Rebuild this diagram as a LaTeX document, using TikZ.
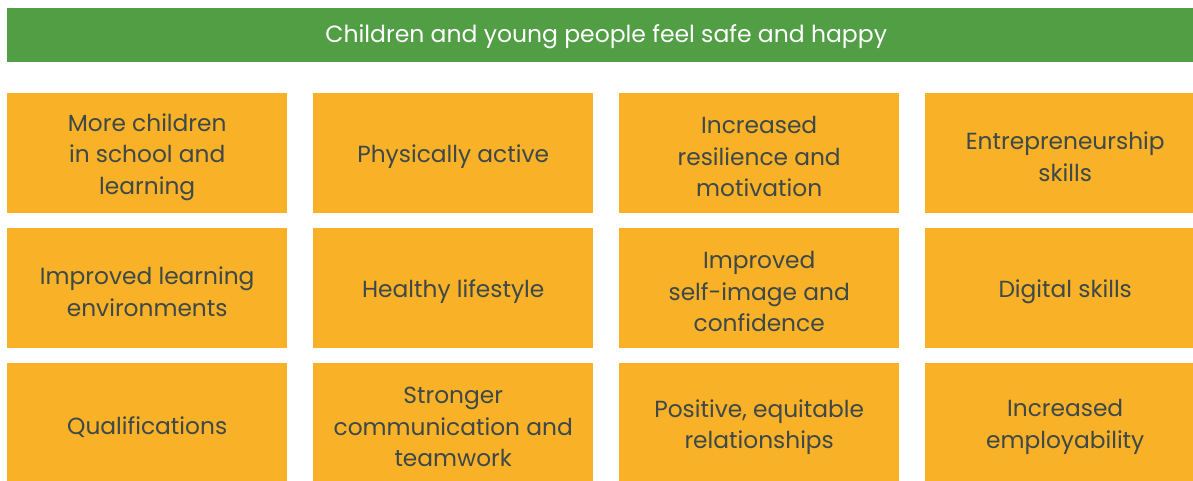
\documentclass[tikz,border=0pt]{standalone}
\usepackage{fontspec}
\setmainfont{Poppins}
\usetikzlibrary{positioning}
\definecolor{bargreen}{HTML}{519E45}
\definecolor{boxorange}{HTML}{F9B127}
\definecolor{txtgrey}{HTML}{3D4848}

\begin{document}
\begin{tikzpicture}[x=1pt, y=-1pt,
  goal/.style={fill=bargreen, text=white, minimum width=1198pt, minimum height=54pt,
    inner sep=0pt, anchor=north west, text height=21pt, font=\fontsize{23.5}{30}\selectfont},
  outcome/.style={fill=boxorange, minimum width=280pt, minimum height=119.5pt,
    inner sep=0pt, anchor=north west},
  outcometext/.style={text=txtgrey, align=center, inner sep=0pt, yshift=-4pt,
    font=\fontsize{23.3}{31.5}\selectfont}]

\clip (0,0) rectangle (1193,481);

% --- overall goal ---
\node[goal] (goal) at (7,8) {Children and young people feel safe and happy};

% --- outcome grid ---
\foreach \r/\c/\txt in {
  0/0/{More children\\in school and\\learning},
  0/1/{Physically active},
  0/2/{Increased\\resilience and\\motivation},
  0/3/{Entrepreneurship\\skills},
  1/0/{Improved learning\\environments},
  1/1/{Healthy lifestyle},
  1/2/{Improved\\self-image and\\confidence},
  1/3/{Digital skills},
  2/0/{Qualifications},
  2/1/{Stronger\\communication and\\teamwork},
  2/2/{Positive, equitable\\relationships},
  2/3/{Increased\\employability}}{
  \node[outcome, label={[outcometext]center:{\txt}}] (o\r\c) at (7+306*\c, 93+135*\r) {};
}
\end{tikzpicture}
\end{document}
